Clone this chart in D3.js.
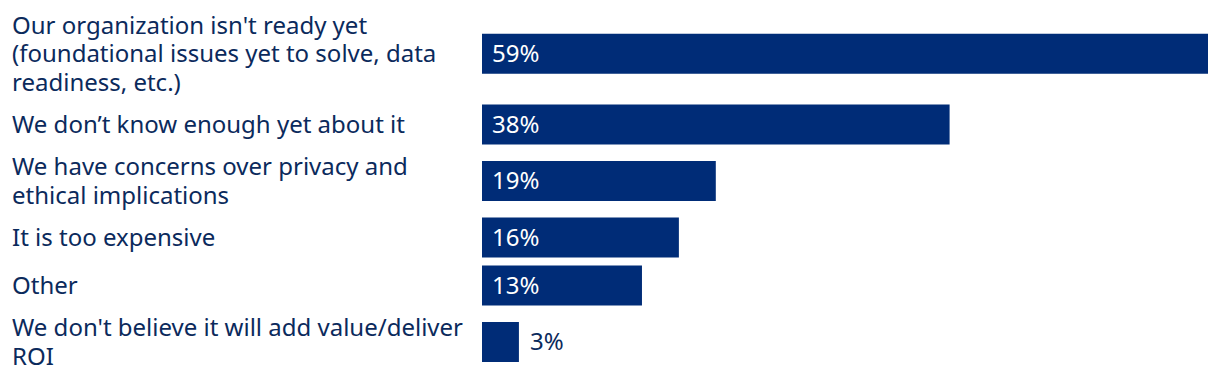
<!DOCTYPE html>
<html>
<head>
<meta charset="utf-8">
<script src="https://cdn.jsdelivr.net/npm/d3@7"></script>
<style>
  body { margin: 0; background: #fff; }
  svg { display: block; font-family: "Noto Sans", sans-serif; }
</style>
</head>
<body>
<div id="chart"></div>
<script>
// labels carry their own line breaks, as in the original
const categories = [
    "Our organization isn't ready yet\n(foundational issues yet to solve, data\nreadiness, etc.)",
    "We don\u2019t know enough yet about it",
    "We have concerns over privacy and\nethical implications",
    "It is too expensive",
    "Other",
    "We don't believe it will add value/deliver\nROI"
];
const values = [59, 38, 19, 16, 13, 3];

const width = 1220;
const height = 382;

const barColor = '#002c77';
const textColor = '#0b2a5c';
const fontSize = 24;
const lineH = 28.5;
const barH = 40;
const gap = 8;
const topPad = 11;

const rows = categories.map((c, i) => ({
    label: c,
    lines: c.split('\n'),
    value: values[i]
}));

// each row is as tall as its label block (or the bar, whichever is bigger)
let cursor = topPad;
rows.forEach(r => {
    r.h = Math.max(barH, r.lines.length * lineH);
    r.center = cursor + r.h / 2;
    cursor += r.h + gap;
});

const yScale = d3.scaleOrdinal()
    .domain(categories)
    .range(rows.map(r => r.center));

const xScale = d3.scaleLinear()
    .domain([0, d3.max(values)])
    .range([482, 1208]);

const svg = d3.select('#chart').append('svg')
    .attr('width', width)
    .attr('height', height);

const row = svg.selectAll('.row')
    .data(rows)
    .join('g')
    .attr('class', 'row')
    .attr('transform', d => `translate(0,${yScale(d.label)})`);

// category labels
row.append('text')
    .attr('font-size', fontSize)
    .attr('fill', textColor)
    .selectAll('tspan')
    .data(d => d.lines.map((l, i) => ({ text: l, i: i, n: d.lines.length })))
    .join('tspan')
    .attr('x', 12)
    .attr('y', d => (d.i - (d.n - 1) / 2) * lineH)
    .attr('dy', '0.35em')
    .text(d => d.text);

// bars
row.append('rect')
    .attr('x', xScale(0))
    .attr('y', -barH / 2)
    .attr('width', d => xScale(d.value) - xScale(0))
    .attr('height', barH)
    .attr('fill', barColor);

// value labels: inside when there is room, else just after the bar
row.append('text')
    .attr('font-size', fontSize)
    .attr('dy', '0.35em')
    .attr('x', d => xScale(d.value) - xScale(0) > 60 ? xScale(0) + 10 : xScale(d.value) + 11)
    .attr('fill', d => xScale(d.value) - xScale(0) > 60 ? '#fff' : textColor)
    .text(d => d.value + '%');
</script>
</body>
</html>
